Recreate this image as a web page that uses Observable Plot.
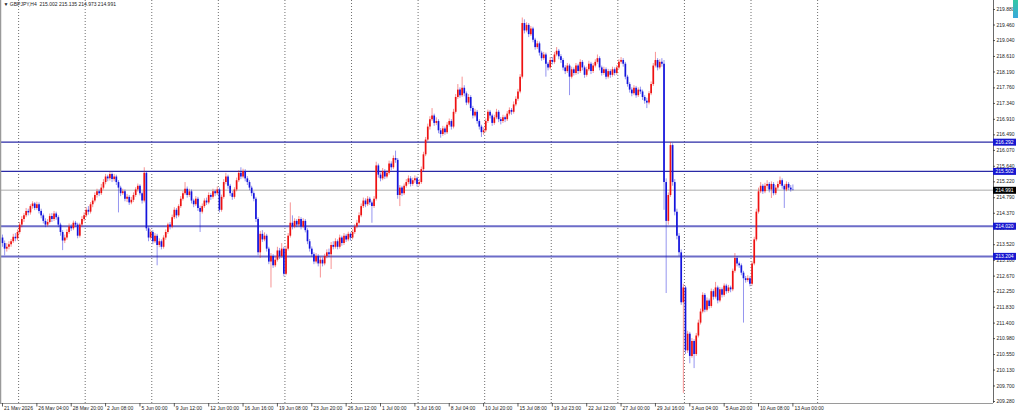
<!DOCTYPE html>
<html><head><meta charset="utf-8">
<script src="https://cdn.jsdelivr.net/npm/d3@7"></script>
<script src="https://cdn.jsdelivr.net/npm/@observablehq/plot@0.6"></script>
<style>
html,body{margin:0;padding:0;background:#fff;}
#wrap{position:relative;width:1018px;height:410px;overflow:hidden;}
#wrap svg{display:block;}
#tab{position:absolute;right:0;top:0;width:5px;height:18px;background:linear-gradient(#34c8a4,#3aa8dc);}
</style></head><body><div id="wrap"><div id="tab"></div></div>
<script>
const symbol = "GBPJPY,H4";

const open = [
213.70,213.55,213.40,213.45,213.52,213.60,213.72,213.68,213.85,214.05,
214.20,214.30,214.42,214.38,214.55,214.62,214.50,214.60,214.42,214.30,
214.15,214.05,214.12,214.28,214.20,214.35,214.25,214.05,213.85,213.62,
213.70,213.85,214.00,213.95,214.10,214.05,213.75,214.05,214.20,214.30,
214.45,214.40,214.60,214.70,214.85,214.95,214.90,215.05,215.20,215.35,
215.30,215.42,215.28,215.35,215.20,215.05,214.90,214.95,214.75,214.80,
214.65,214.72,214.85,215.00,215.10,214.90,214.70,215.45,213.95,213.70,
213.85,213.60,213.75,213.50,213.60,213.45,213.70,213.85,214.05,214.00,
214.25,214.45,214.30,214.55,214.75,214.90,215.02,214.85,214.95,214.70,
214.60,214.75,214.50,214.40,214.55,214.70,214.65,214.85,214.80,214.95,
214.90,215.00,214.45,214.80,215.20,215.35,215.10,214.90,214.80,215.00,
215.25,215.45,215.35,215.50,215.30,215.20,215.05,214.90,214.75,214.20,
213.30,213.80,213.65,213.75,213.40,213.05,213.20,212.95,213.10,213.35,
213.20,213.40,212.72,213.40,213.75,214.10,214.00,214.15,214.05,214.20,
214.00,214.15,213.90,213.60,213.40,213.25,213.05,213.20,213.00,213.10,
213.00,213.20,213.30,213.25,213.50,213.45,213.60,213.45,213.70,213.55,
213.75,213.65,213.80,213.70,213.85,214.00,214.10,214.30,214.55,214.70,
214.60,214.75,214.65,214.55,214.75,215.65,215.40,215.30,215.50,215.35,
215.45,215.70,215.60,215.85,215.80,214.85,215.05,214.90,215.10,215.20,
215.30,215.15,215.25,215.30,215.15,215.20,215.55,215.95,216.35,216.70,
216.90,217.00,216.80,216.85,216.60,216.50,216.65,216.55,216.75,216.85,
216.70,217.10,217.50,217.70,217.55,217.75,217.60,217.35,217.50,217.20,
217.00,217.10,216.85,216.70,216.55,216.60,216.85,217.10,217.00,216.80,
216.95,217.10,216.90,216.85,216.95,216.90,217.05,217.15,217.10,217.30,
217.45,217.65,218.05,219.50,219.30,219.45,219.20,219.35,219.05,218.85,
218.95,218.70,218.55,218.65,218.40,218.30,218.50,218.45,218.65,218.75,
218.60,218.50,218.30,218.20,218.35,218.05,218.25,218.15,218.35,218.20,
218.45,218.30,218.10,218.25,218.40,218.20,218.35,218.45,218.55,218.30,
218.15,218.25,218.05,218.20,218.10,218.25,218.15,218.30,218.45,218.50,
218.40,218.05,217.85,217.70,217.60,217.75,217.55,217.70,217.65,217.50,
217.40,217.35,217.60,217.85,218.35,218.50,218.30,218.45,218.40,215.20,
214.15,214.85,216.20,215.20,214.40,213.75,213.30,211.95,212.35,210.65,
211.10,210.50,210.90,210.55,211.05,211.40,211.70,212.15,211.75,212.00,
211.85,212.25,212.10,212.35,212.00,212.30,212.15,212.40,212.25,212.35,
212.30,212.80,213.15,213.00,212.95,212.75,212.60,212.55,212.60,212.45,
213.00,213.65,214.40,214.95,215.10,214.95,215.10,215.15,215.00,215.15,
214.90,215.05,215.15,215.25,215.10,215.00,215.15,215.05,215.002
];

const high = [
213.78,213.62,213.55,213.60,213.66,213.80,213.82,213.92,214.12,214.28,
214.36,214.50,214.48,214.60,214.68,214.66,214.67,214.65,214.48,214.35,
214.22,214.20,214.35,214.36,214.42,214.40,214.30,214.10,213.90,213.78,
213.92,214.08,214.06,214.16,214.15,214.10,214.10,214.28,214.38,214.52,
214.55,214.66,214.78,214.92,215.02,215.00,215.15,215.28,215.42,215.40,
215.48,215.46,215.42,215.40,215.25,215.10,215.02,215.00,214.88,214.85,
214.80,214.92,215.06,215.16,215.14,214.95,215.60,215.50,214.00,213.92,
213.90,213.82,213.80,213.68,213.65,213.76,213.92,214.10,214.12,214.32,
214.52,214.50,214.60,214.82,214.96,215.20,215.08,215.02,215.00,214.75,
214.82,214.80,214.56,214.62,214.76,214.78,214.92,214.90,215.02,215.00,
215.08,215.05,214.86,215.28,215.45,215.40,215.15,214.96,215.06,215.32,
215.52,215.60,215.56,215.55,215.36,215.25,215.10,214.95,214.80,214.25,
213.88,213.90,213.84,213.80,213.45,213.28,213.25,213.18,213.45,213.42,
213.55,213.45,213.48,213.82,214.65,214.30,214.22,214.20,214.28,214.25,
214.22,214.20,213.95,213.66,213.46,213.30,213.28,213.25,213.18,213.16,
213.26,213.38,213.40,213.58,213.60,213.68,213.65,213.78,213.75,213.82,
213.80,213.86,213.84,213.92,214.06,214.18,214.38,214.62,214.78,214.76,
214.82,214.80,214.70,214.82,215.75,215.70,215.46,215.58,215.55,215.52,
215.78,215.76,215.92,216.05,215.85,215.12,215.10,215.16,215.28,215.38,
215.36,215.32,215.38,215.35,215.28,215.62,216.02,216.42,216.78,216.98,
217.20,217.05,216.95,216.90,216.66,216.72,216.70,216.82,216.92,216.90,
217.18,217.58,217.85,217.76,218.05,217.82,217.65,217.58,217.55,217.26,
217.18,217.15,216.90,216.75,216.68,216.92,217.16,217.15,217.05,217.02,
217.18,217.15,216.96,217.02,217.00,217.12,217.22,217.20,217.38,217.52,
217.72,218.12,219.65,219.60,219.52,219.50,219.42,219.40,219.10,219.02,
219.00,218.75,218.72,218.70,218.45,218.58,218.58,218.72,218.85,218.80,
218.66,218.55,218.36,218.42,218.40,218.32,218.30,218.42,218.40,218.52,
218.50,218.35,218.32,218.48,218.45,218.42,218.52,218.65,218.60,218.35,
218.32,218.30,218.26,218.25,218.32,218.30,218.36,218.52,218.58,218.55,
218.45,218.10,217.90,217.76,217.82,217.80,217.76,217.78,217.70,217.55,
217.48,217.66,217.92,218.42,218.72,218.55,218.52,218.55,218.50,215.30,
214.92,216.28,216.25,215.28,214.48,213.82,213.38,212.45,212.40,211.18,
211.15,210.98,210.95,211.12,211.48,211.78,212.22,212.20,212.08,212.05,
212.32,212.30,212.50,212.40,212.36,212.35,212.46,212.45,212.42,212.40,
212.86,213.28,213.20,213.05,213.00,212.80,212.66,212.68,212.65,213.06,
213.72,214.48,215.05,215.20,215.15,215.18,215.25,215.20,215.22,215.20,
215.12,215.22,215.35,215.30,215.15,215.22,215.20,215.12,215.135
];

const low = [
213.45,213.22,213.32,213.38,213.45,213.55,213.60,213.62,213.80,213.98,
214.12,214.25,214.30,214.32,214.48,214.44,214.45,214.35,214.22,214.08,
213.98,214.00,214.08,214.12,214.15,214.18,213.98,213.75,213.36,213.55,
213.64,213.80,213.88,213.90,213.98,213.68,213.70,214.00,214.14,214.25,
214.32,214.35,214.52,214.65,214.78,214.82,214.85,215.00,215.14,215.22,
215.24,215.20,215.22,215.12,214.38,214.82,214.85,214.68,214.66,214.58,
214.60,214.66,214.80,214.94,214.84,214.62,214.65,213.88,213.60,213.64,
213.52,213.55,212.95,213.44,213.38,213.40,213.64,213.80,213.92,213.95,
214.20,214.22,214.25,214.50,214.70,214.85,214.78,214.80,214.62,214.52,
214.55,214.42,213.85,214.35,214.50,214.58,214.60,214.72,214.75,214.82,
214.85,214.38,214.40,214.75,215.14,215.02,214.82,214.72,214.75,214.95,
215.20,215.28,215.30,215.22,215.12,214.98,214.82,214.68,214.12,213.22,
213.15,213.58,213.60,213.32,212.98,212.35,212.88,212.90,213.05,213.12,
213.15,212.65,212.68,213.35,213.70,213.92,213.95,213.98,214.00,213.92,
213.95,213.84,213.52,213.32,213.18,212.98,213.00,212.92,212.62,212.92,
212.95,213.14,213.18,212.85,213.38,213.40,213.38,213.40,213.48,213.50,
213.58,213.60,213.62,213.65,213.80,213.95,214.05,214.25,214.50,214.52,
214.55,214.58,214.10,214.50,214.70,215.32,215.22,215.25,215.28,215.30,
215.40,215.52,215.55,215.72,214.75,214.55,214.82,214.85,215.05,215.14,
215.08,215.10,215.18,215.08,215.10,215.15,215.50,215.90,216.30,216.62,
216.85,216.72,216.74,216.52,216.40,216.45,216.48,216.50,216.70,216.62,
216.65,217.05,217.45,217.48,217.50,217.52,217.28,217.30,217.12,216.92,
216.95,216.78,216.62,216.42,216.48,216.55,216.80,216.92,216.72,216.75,
216.90,216.82,216.76,216.80,216.82,216.85,217.00,217.02,217.05,217.25,
217.40,217.60,218.00,219.22,219.25,219.12,219.15,218.98,218.78,218.80,
218.62,218.48,218.50,218.05,218.22,218.25,218.38,218.40,218.60,218.52,
218.42,218.22,218.12,218.15,217.55,218.00,218.08,218.10,218.12,218.15,
218.22,218.02,218.05,218.20,218.12,218.15,218.30,218.40,218.22,218.08,
218.10,217.98,218.00,218.02,218.05,218.08,218.10,218.25,218.40,218.32,
217.98,217.78,217.62,217.52,217.55,217.48,217.50,217.58,217.42,217.32,
217.20,217.30,217.55,217.80,218.30,218.22,218.25,218.32,214.45,212.20,
214.05,214.80,215.10,214.30,213.65,213.20,211.88,209.50,210.55,210.58,
210.30,210.45,210.17,210.50,211.00,211.35,211.65,211.68,211.70,211.78,
211.80,212.02,212.05,211.92,211.95,212.08,212.10,212.18,212.20,212.22,
212.25,212.75,212.92,212.88,212.68,211.40,212.48,212.50,212.38,212.40,
212.95,213.60,214.35,214.90,214.88,214.90,215.02,214.92,214.77,214.84,
214.85,215.00,215.10,215.02,214.50,214.95,214.98,214.94,214.973
];

const close = [
213.55,213.40,213.45,213.52,213.60,213.72,213.68,213.85,214.05,214.20,
214.30,214.42,214.38,214.55,214.62,214.50,214.60,214.42,214.30,214.15,
214.05,214.12,214.28,214.20,214.35,214.25,214.05,213.85,213.62,213.70,
213.85,214.00,213.95,214.10,214.05,213.75,214.05,214.20,214.30,214.45,
214.40,214.60,214.70,214.85,214.95,214.90,215.05,215.20,215.35,215.30,
215.42,215.28,215.35,215.20,215.05,214.90,214.95,214.75,214.80,214.65,
214.72,214.85,215.00,215.10,214.90,214.70,215.45,213.95,213.70,213.85,
213.60,213.75,213.50,213.60,213.45,213.70,213.85,214.05,214.00,214.25,
214.45,214.30,214.55,214.75,214.90,215.02,214.85,214.95,214.70,214.60,
214.75,214.50,214.40,214.55,214.70,214.65,214.85,214.80,214.95,214.90,
215.00,214.45,214.80,215.20,215.35,215.10,214.90,214.80,215.00,215.25,
215.45,215.35,215.50,215.30,215.20,215.05,214.90,214.75,214.20,213.30,
213.80,213.65,213.75,213.40,213.05,213.20,212.95,213.10,213.35,213.20,
213.40,212.72,213.40,213.75,214.10,214.00,214.15,214.05,214.20,214.00,
214.15,213.90,213.60,213.40,213.25,213.05,213.20,213.00,213.10,213.00,
213.20,213.30,213.25,213.50,213.45,213.60,213.45,213.70,213.55,213.75,
213.65,213.80,213.70,213.85,214.00,214.10,214.30,214.55,214.70,214.60,
214.75,214.65,214.55,214.75,215.65,215.40,215.30,215.50,215.35,215.45,
215.70,215.60,215.85,215.80,214.85,215.05,214.90,215.10,215.20,215.30,
215.15,215.25,215.30,215.15,215.20,215.55,215.95,216.35,216.70,216.90,
217.00,216.80,216.85,216.60,216.50,216.65,216.55,216.75,216.85,216.70,
217.10,217.50,217.70,217.55,217.75,217.60,217.35,217.50,217.20,217.00,
217.10,216.85,216.70,216.55,216.60,216.85,217.10,217.00,216.80,216.95,
217.10,216.90,216.85,216.95,216.90,217.05,217.15,217.10,217.30,217.45,
217.65,218.05,219.50,219.30,219.45,219.20,219.35,219.05,218.85,218.95,
218.70,218.55,218.65,218.40,218.30,218.50,218.45,218.65,218.75,218.60,
218.50,218.30,218.20,218.35,218.05,218.25,218.15,218.35,218.20,218.45,
218.30,218.10,218.25,218.40,218.20,218.35,218.45,218.55,218.30,218.15,
218.25,218.05,218.20,218.10,218.25,218.15,218.30,218.45,218.50,218.40,
218.05,217.85,217.70,217.60,217.75,217.55,217.70,217.65,217.50,217.40,
217.35,217.60,217.85,218.35,218.50,218.30,218.45,218.40,215.20,214.15,
214.85,216.20,215.20,214.40,213.75,213.30,211.95,212.35,210.65,211.10,
210.50,210.90,210.55,211.05,211.40,211.70,212.15,211.75,212.00,211.85,
212.25,212.10,212.35,212.00,212.30,212.15,212.40,212.25,212.35,212.30,
212.80,213.15,213.00,212.95,212.75,212.60,212.55,212.60,212.45,213.00,
213.65,214.40,214.95,215.10,214.95,215.10,215.15,215.00,215.15,214.90,
215.05,215.15,215.25,215.10,215.00,215.15,215.05,215.00,214.991
];

const timeLabels = ["21 May 2026","26 May 04:00","28 May 20:00","2 Jun 08:00","5 Jun 00:00","9 Jun 12:00",
  "12 Jun 00:00","16 Jun 16:00","19 Jun 08:00","23 Jun 20:00","26 Jun 12:00","1 Jul 00:00","3 Jul 16:00",
  "8 Jul 04:00","10 Jul 20:00","15 Jul 08:00","19 Jul 23:00","22 Jul 12:00","27 Jul 00:00","29 Jul 16:00",
  "3 Aug 04:00","5 Aug 20:00","10 Aug 08:00","13 Aug 00:00"];
const timeLabelBars = [0,16,32,48,64,80,96,112,128,144,160,176,192,208,224,240,256,272,288,304,320,336,352,368];
const weekGridBars = [7.5,38.5,69.5,100.5,131.5,162.5,193.5,224.5,255.5,286.5,317.5,348.5,379.5];
const priceTicks = [219.880,219.460,219.040,218.610,218.190,217.760,217.340,216.910,216.490,216.070,215.640,215.220,
  214.790,214.370,213.950,213.520,213.100,212.670,212.250,211.830,211.400,210.980,210.550,210.130,209.700,209.280];
const levels = [216.292, 215.502, 214.020, 213.204];
const lastPrice = 214.991;

// ---- layout & style ----
const W = 1018, H = 410, mR = 25, mB = 7;
const xDom = [-0.93, 461.4], yDom = [209.226, 220.123];
const ux = (xDom[1] - xDom[0]) / (W - mR);   // data units per pixel
const uy = (yDom[1] - yDom[0]) / (H - mB);
const UP = "#ee1111", DOWN = "#1414dc";
const levelStroke = ["#2a2aa6", "#2a2aa6", "#6c6cc8", "#6c6cc8"];
const levelWidth = [1.2, 1.2, 2, 2];
const fmt = v => v.toFixed(3);

const bars = close.map((c, i) => ({i, o: open[i], h: high[i], l: low[i], c}));
const col = d => d.c >= d.o ? UP : DOWN;
const last = close.length - 1;
const header = `\u25BC ${symbol}  ${fmt(open[last])} ${fmt(high[last])} ${fmt(low[last])} ${fmt(close[last])}`;
const labelData = timeLabels.map((t, k) => ({t, i: timeLabelBars[k]}));
const levelData = levels.map((v, k) => ({v, k}));

const chart = Plot.plot({
  width: W, height: H, marginLeft: 0, marginRight: mR, marginTop: 0, marginBottom: mB,
  x: {type: "linear", domain: xDom, axis: null},
  y: {type: "linear", domain: yDom, axis: null},
  style: {fontFamily: "'Liberation Sans', Arial, sans-serif", fontSize: "5px", background: "#fff", overflow: "visible"},
  marks: [
    Plot.ruleX(weekGridBars, {x: d => d, stroke: "#4a4a4a", strokeDasharray: "1,2", strokeWidth: 0.8}),
    Plot.ruleY([lastPrice], {y: d => d, stroke: "#c8c8c8", strokeWidth: 1.5}),
    Plot.ruleY(levelData, {y: "v", stroke: d => levelStroke[d.k], strokeWidth: d => levelWidth[d.k]}),
    Plot.ruleX(bars, {x: "i", y1: "l", y2: "h", stroke: col, strokeOpacity: 0.45, strokeWidth: 1}),
    Plot.ruleX(bars, {x: "i", y1: "o", y2: "c", stroke: col, strokeWidth: 1.7}),
    // frame lines
    Plot.ruleX([xDom[0]], {x: d => d, stroke: "#9a9a9a", strokeWidth: 1.5}),
    Plot.ruleX([xDom[1]], {x: d => d, stroke: "#6a6a6a", strokeWidth: 1}),
    Plot.ruleY([yDom[0]], {y: d => d, x1: xDom[0], x2: xDom[1], stroke: "#9a9a9a", strokeWidth: 1}),
    // price axis
    Plot.ruleY(priceTicks, {y: d => d, x1: xDom[1], x2: xDom[1] + 2 * ux, stroke: "#333", strokeWidth: 0.8}),
    Plot.text(priceTicks, {y: d => d, x: xDom[1], dx: 3, textAnchor: "start", text: fmt, fill: "#222"}),
    // time axis
    Plot.ruleX(labelData, {x: "i", y1: yDom[0], y2: yDom[0] - 3.5 * uy, stroke: "#333", strokeWidth: 0.8}),
    Plot.text(labelData, {x: "i", y: yDom[0], dy: 4.5, dx: 1.5, textAnchor: "start", text: "t", fill: "#222"}),
    // price badges
    Plot.ruleY(levelData, {y: "v", x1: xDom[1], x2: xDom[1] + 23 * ux, stroke: "#1818d0", strokeWidth: 7}),
    Plot.text(levelData, {y: "v", x: xDom[1], dx: 2, textAnchor: "start", text: d => fmt(d.v), fill: "#fff"}),
    Plot.ruleY([lastPrice], {y: d => d, x1: xDom[1], x2: xDom[1] + 23 * ux, stroke: "#000", strokeWidth: 7}),
    Plot.text([lastPrice], {y: d => d, x: xDom[1], dx: 2, textAnchor: "start", text: fmt, fill: "#fff"}),
    // header
    Plot.text([header], {frameAnchor: "top-left", dx: 3, dy: 4, text: d => d, textAnchor: "start", fill: "#222", lineAnchor: "middle"})
  ]
});
document.getElementById("wrap").prepend(chart);
</script>
</body></html>
